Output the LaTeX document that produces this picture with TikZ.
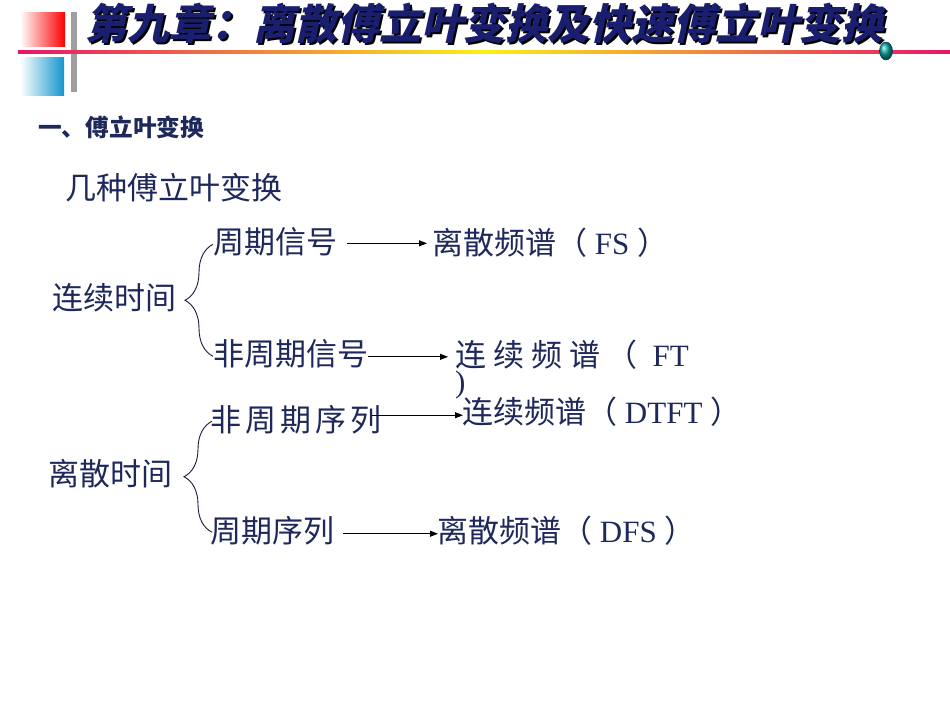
\documentclass[tikz,border=0pt]{standalone}
\usepackage{fontspec}
\setmainfont{Liberation Serif}
\newfontfamily\cjk{Noto Sans CJK SC}
\newfontfamily\cjkslant[FakeSlant=0.22]{Noto Sans CJK SC}
\usetikzlibrary{arrows.meta,positioning,calc,decorations.pathreplacing,shadings}

\definecolor{ink}{RGB}{30,40,90}
\definecolor{ttlblue}{RGB}{25,30,110}
\definecolor{barpink}{RGB}{232,20,105}
\definecolor{baryel}{RGB}{250,240,20}
\definecolor{sqred}{RGB}{250,0,0}
\definecolor{sqblue}{RGB}{20,150,205}
\definecolor{dotteal}{RGB}{0,165,155}

\newcommand{\lat}[1]{{\rmfamily #1}}

\tikzset{
  txt/.style={anchor=base west, inner sep=0pt, text=ink, font=\cjk\fontsize{31}{36}\selectfont},
  ttl/.style={anchor=base west, inner sep=0pt, font=\cjkslant\bfseries\fontsize{42}{48}\selectfont},
  arr/.style={-{Triangle[length=8pt,width=6pt]}, line width=0.9pt},
  brc/.style={decorate, decoration={brace, amplitude=28pt}, line width=0.9pt, draw=ink!70!black},
}

\begin{document}
\begin{tikzpicture}[x=1pt,y=-1pt]
\useasboundingbox (0,0) rectangle (950,713);

% header
\shade[left color=white, right color=sqred] (20,12) rectangle (65,46);
\shade[left color=white, right color=sqblue] (20,57) rectangle (64,95);
\fill[gray!75] (71,12) rectangle (77,92);
\shade[left color=barpink, right color=barpink, middle color=baryel] (18,50) rectangle (950,53);
\node[ttl, text=black] (title-sh) at (87.5,41.5) {第九章：离散傅立叶变换及快速傅立叶变换};
\node[ttl, text=ttlblue] (title) at (85,39) {第九章：离散傅立叶变换及快速傅立叶变换};
\shade[ball color=dotteal, draw=ttlblue] (886,51) ellipse (6.5 and 9);

\node[txt, font=\cjk\bfseries\fontsize{23.7}{28}\selectfont] (sec) at (38,136) {一、傅立叶变换};
\node[txt] (kinds) at (65,199) {几种傅立叶变换};

% continuous time
\node[txt] (cont) at (52,309) {连续时间};
\node[txt] (per) at (213,253) {周期信号};
\node[txt] (aper) at (213,365) {非周期信号};
\node[txt] (fs) at (432,254) {离散频谱（\lat{ FS }）};
\node[txt, align=left] (ft) at (455,392) {连 续 频 谱 （ \lat{ FT}\\[-10pt]\lat{)}};

% discrete time
\node[txt] (disc) at (48,485) {离散时间};
\node[txt] (aseq) at (210,431) {非\hspace{4pt}周\hspace{4pt}期\hspace{4pt}序\hspace{4pt}列};
\node[txt] (pseq) at (210,542) {周期序列};
\node[txt] (dtft) at (462,423) {连续频谱（\lat{ DTFT }）};
\node[txt] (dfs) at (437,542) {离散频谱（\lat{ DFS }）};

\draw[brc] ([yshift=-3pt]aper.west) -- ([yshift=-3pt]per.west);
\draw[brc] ([xshift=2pt,yshift=-2pt]pseq.west) -- ([xshift=2pt,yshift=-2pt]aseq.west);

\draw[arr] ([xshift=10pt,yshift=-2pt]per.east) -- ([xshift=-5pt,yshift=-2pt]per.east -| fs.west);
\draw[arr] ([yshift=-3.5pt]aper.east) -- ([xshift=-7pt,yshift=-3.5pt]aper.east -| ft.west);
\draw[arr] ([xshift=-9pt,yshift=4pt]aseq.east) -- ([xshift=1pt,yshift=4pt]aseq.east -| dtft.west);
\draw[arr] ([xshift=9pt,yshift=-3.5pt]pseq.east) -- ([xshift=1pt,yshift=-3.5pt]pseq.east -| dfs.west);
\end{tikzpicture}
\end{document}
